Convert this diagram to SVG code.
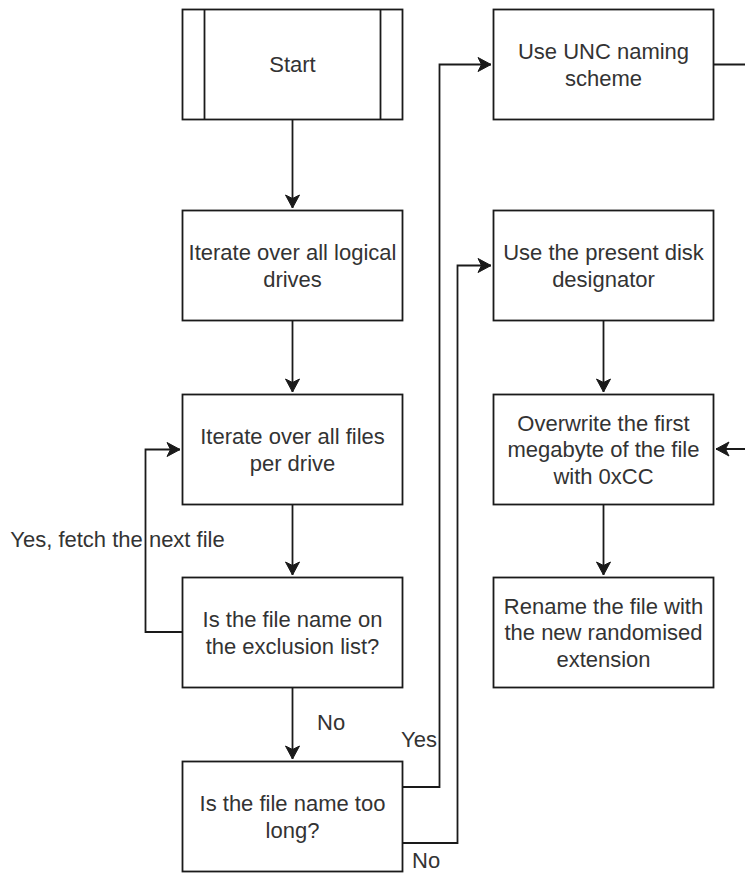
<svg xmlns="http://www.w3.org/2000/svg" width="745" height="873" viewBox="0 0 745 873">
<style>
.box{fill:#ffffff;stroke:#1a1a1a;stroke-width:1.8}
.t{font-family:"Liberation Sans",Arial,sans-serif;font-size:22px;fill:#333333;text-anchor:middle}
.lbl{font-family:"Liberation Sans",Arial,sans-serif;font-size:22px;fill:#333333}
.edge{fill:none;stroke:#1a1a1a;stroke-width:1.8}
</style>
<defs>
<marker id="arr" markerUnits="userSpaceOnUse" markerWidth="20" markerHeight="20" refX="0" refY="0" orient="auto" overflow="visible" viewBox="-15 -10 20 20">
<path d="M-13,-7 L0,0 L-13,7 L-9.5,0 Z" fill="#1a1a1a" stroke="#1a1a1a" stroke-width="1"/>
</marker>
</defs>
<rect width="745" height="873" fill="#ffffff"/>
<g id="connectors">
<path class="edge" d="M292.5,119.5 V208" marker-end="url(#arr)"/>
<path class="edge" d="M292.5,320.5 V392" marker-end="url(#arr)"/>
<path class="edge" d="M292.5,504.5 V575" marker-end="url(#arr)"/>
<path class="edge" d="M182.5,632 H145.5 V449.5 H180" marker-end="url(#arr)"/>
<path class="edge" d="M292.5,687.5 V759" marker-end="url(#arr)"/>
<path class="edge" d="M402.5,787 H439.5 V64.5 H491" marker-end="url(#arr)"/>
<path class="edge" d="M402.5,843 H457.5 V265.5 H491" marker-end="url(#arr)"/>
<path class="edge" d="M713.5,64.5 H770 V449 H716" marker-end="url(#arr)"/>
<path class="edge" d="M603.5,320.5 V392" marker-end="url(#arr)"/>
<path class="edge" d="M603.5,504.5 V575" marker-end="url(#arr)"/>
<text class="lbl" x="117.5" y="547" text-anchor="middle">Yes, fetch the next file</text>
<text class="lbl" x="317" y="730">No</text>
<text class="lbl" x="437" y="747" text-anchor="end">Yes</text>
<text class="lbl" x="412" y="868">No</text>
</g>
<g id="start">
<rect class="box" x="182.5" y="9.5" width="220" height="110"/>
<line class="box" x1="204.5" y1="9.5" x2="204.5" y2="119.5"/>
<line class="box" x1="380.5" y1="9.5" x2="380.5" y2="119.5"/>
<text class="t" x="292.5" y="72.4">Start</text>
</g>
<g id="iterate-drives">
<rect class="box" x="182.5" y="210.5" width="220" height="110"/>
<text class="t" x="292.5" y="260.2">Iterate over all logical</text>
<text class="t" x="292.5" y="286.6">drives</text>
</g>
<g id="iterate-files">
<rect class="box" x="182.5" y="394.5" width="220" height="110"/>
<text class="t" x="292.5" y="444.2">Iterate over all files</text>
<text class="t" x="292.5" y="470.6">per drive</text>
</g>
<g id="exclusion">
<rect class="box" x="182.5" y="577.5" width="220" height="110"/>
<text class="t" x="292.5" y="627.2">Is the file name on</text>
<text class="t" x="292.5" y="653.6">the exclusion list?</text>
</g>
<g id="too-long">
<rect class="box" x="182.5" y="761.5" width="220" height="110"/>
<text class="t" x="292.5" y="811.2">Is the file name too</text>
<text class="t" x="292.5" y="837.6">long?</text>
</g>
<g id="unc">
<rect class="box" x="493.5" y="9.5" width="220" height="110"/>
<text class="t" x="603.5" y="59.2">Use UNC naming</text>
<text class="t" x="603.5" y="85.6">scheme</text>
</g>
<g id="disk">
<rect class="box" x="493.5" y="210.5" width="220" height="110"/>
<text class="t" x="603.5" y="260.2">Use the present disk</text>
<text class="t" x="603.5" y="286.6">designator</text>
</g>
<g id="overwrite">
<rect class="box" x="493.5" y="394.5" width="220" height="110"/>
<text class="t" x="603.5" y="431">Overwrite the first</text>
<text class="t" x="603.5" y="457.4">megabyte of the file</text>
<text class="t" x="603.5" y="483.8">with 0xCC</text>
</g>
<g id="rename">
<rect class="box" x="493.5" y="577.5" width="220" height="110"/>
<text class="t" x="603.5" y="614">Rename the file with</text>
<text class="t" x="603.5" y="640.4">the new randomised</text>
<text class="t" x="603.5" y="666.8">extension</text>
</g>
</svg>
